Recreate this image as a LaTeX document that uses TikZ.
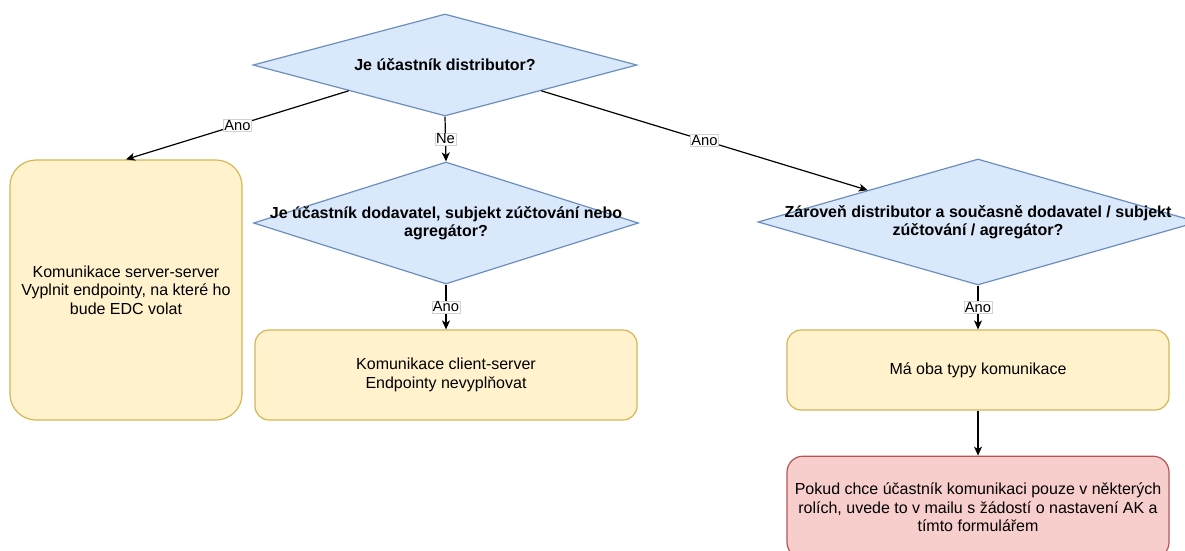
\documentclass[tikz,border=0pt]{standalone}
\usepackage{fontspec}
\setmainfont{Liberation Sans}
\usepackage{xcolor}
\usepackage{tikz}
\usetikzlibrary{shapes.geometric,arrows.meta,positioning}
\definecolor{qfill}{HTML}{DAE8FC}
\definecolor{qline}{HTML}{6C8EBF}
\definecolor{yfill}{HTML}{FFF2CC}
\definecolor{yline}{HTML}{D6B656}
\definecolor{rfill}{HTML}{F8CECC}
\definecolor{rline}{HTML}{B85450}
\tikzset{
  decision/.style={diamond, draw=qline, fill=qfill, line width=1.2pt, inner sep=0pt},
  qtext/.style={font=\fontsize{16}{18.5}\selectfont\bfseries, align=center, inner sep=0pt},
  yellowbox/.style={rectangle, rounded corners=#1, draw=yline, fill=yfill, line width=1.2pt,
    inner sep=0pt, align=center, font=\fontsize{16}{18.5}\selectfont},
  yellowbox/.default=14pt,
  redbox/.style={yellowbox=16pt, draw=rline, fill=rfill},
  flow/.style={line width=1.2pt, -{Stealth[length=9pt,width=8pt,inset=2.5pt]}},
  edgelabel/.style={fill=white, draw=gray!35, line width=0.4pt, inner sep=1pt,
    font=\fontsize{14.7}{16}\selectfont}
}
\begin{document}
\begin{tikzpicture}[x=1pt,y=1pt]
            \useasboundingbox (0,0) rectangle (1185,-550);
            \clip (0,0) rectangle (1185,-550);
            % questions
            \node[decision, minimum width=384pt, minimum height=102pt] at (445,-65) (q1) {};
            \node[qtext] at (q1) (q1text) {Je účastník distributor?};
            \node[decision, minimum width=385pt, minimum height=122pt] at (446,-223) (q2) {};
            \node[qtext] at (q2) (q2text) {Je účastník dodavatel, subjekt zúčtování nebo\\ agregátor?};
            \node[decision, minimum width=440pt, minimum height=126pt] at (978,-222) (q3) {};
            \node[qtext] at (q3) (q3text) {Zároveň distributor a současně dodavatel / subjekt\\ zúčtování / agregátor?};
            % answers
            \node[yellowbox=26pt, minimum width=232pt, minimum height=260pt] at (126,-290) (b1)
                {Komunikace server-server\\ Vyplnit endpointy, na které ho\\ bude EDC volat};
            \node[yellowbox, minimum width=382pt, minimum height=90pt] at (446,-375) (b2)
                {Komunikace client-server\\ Endpointy nevyplňovat};
            \node[yellowbox, minimum width=382pt, minimum height=80pt] at (978,-370) (b3)
                {Má oba typy komunikace};
            \node[redbox, minimum width=382pt, minimum height=102pt, below=45pt of b3] (b4)
                {Pokud chce účastník komunikaci pouze v některých\\ rolích, uvede to v mailu s žádostí o nastavení AK a\\ tímto formulářem};
            % connectors
            \draw[flow] (q1.south west) -- (b1.north) node[midway, edgelabel] (l1) {Ano};
            \draw[flow] (q1.south) -- (q2.north) node[midway, edgelabel] (l2) {Ne};
            \draw[flow] (q1.south east) -- (q3.north west) node[midway, edgelabel] (l3) {Ano};
            \draw[flow] (q2.south) -- (b2.north) node[midway, edgelabel] (l4) {Ano};
            \draw[flow] (q3.south) -- (b3.north) node[midway, edgelabel] (l5) {Ano};
            \draw[flow] (b3.south) -- (b4.north);
        \end{tikzpicture}
\end{document}
